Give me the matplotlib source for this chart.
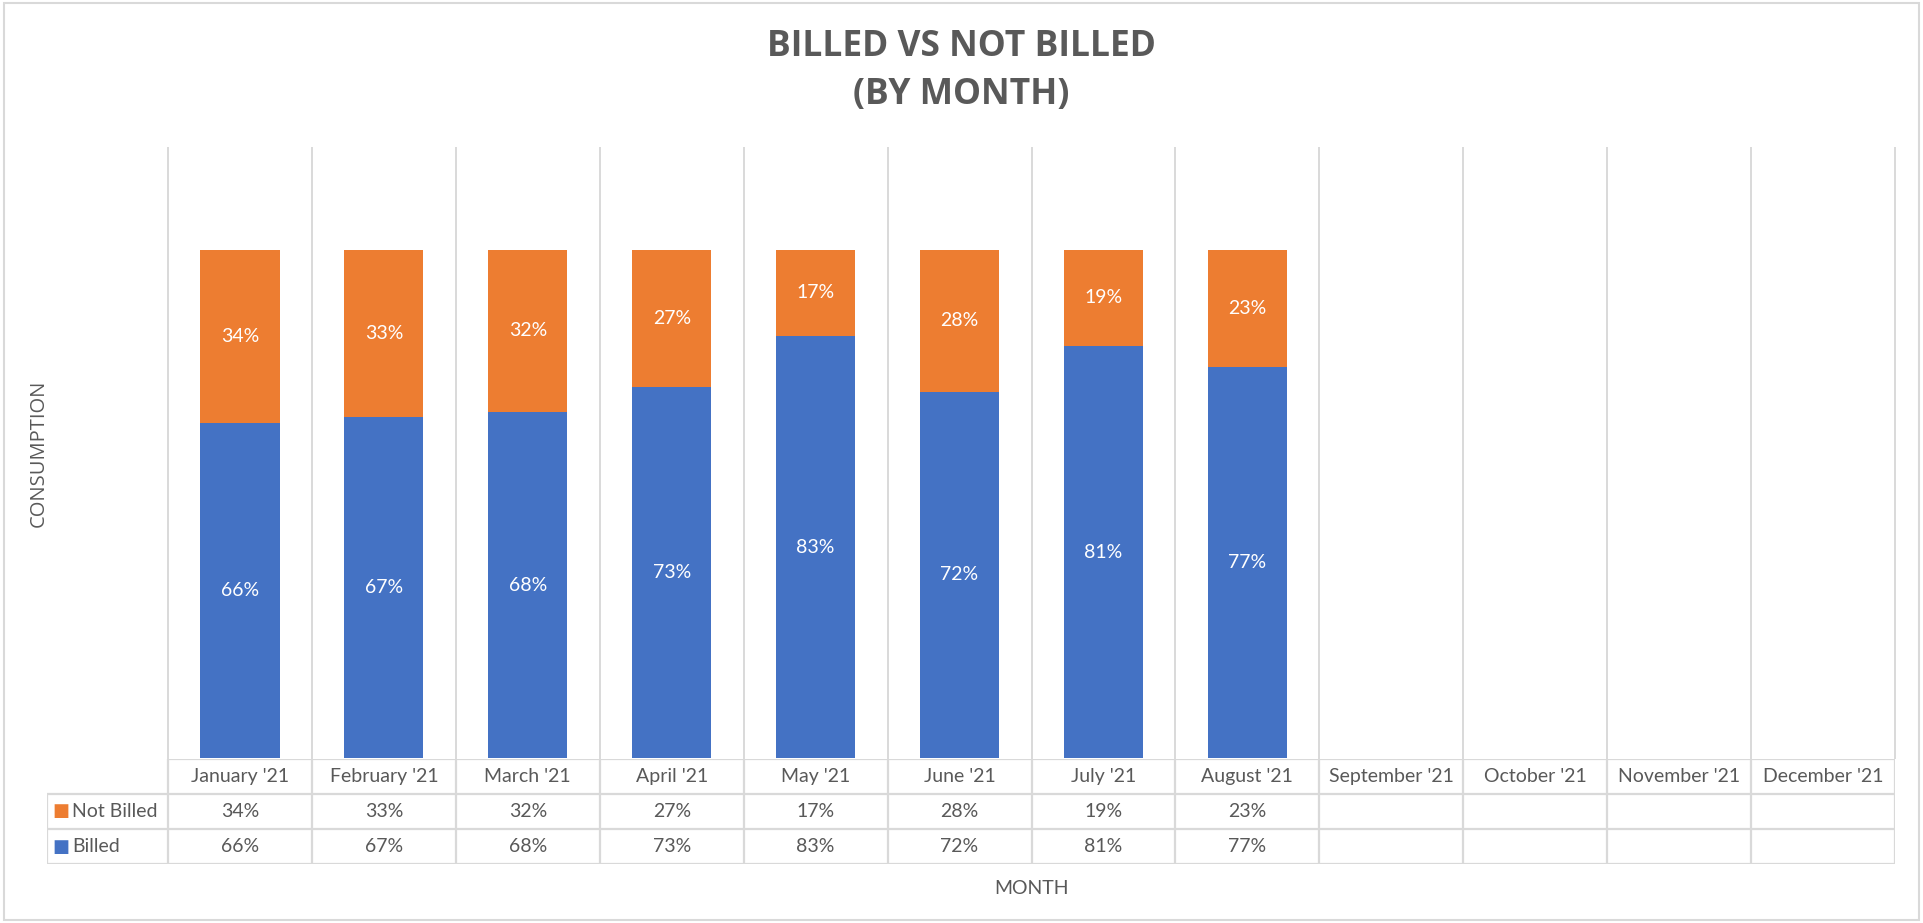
import matplotlib
matplotlib.use("Agg")
import matplotlib.pyplot as plt
from matplotlib.patches import Rectangle
import numpy as np

plt.rcParams['font.family'] = ['Lato', 'DejaVu Sans']

# data
months = ["January '21", "February '21", "March '21", "April '21", "May '21", "June '21",
          "July '21", "August '21", "September '21", "October '21", "November '21", "December '21"]
billed = [66, 67, 68, 73, 83, 72, 81, 77]
not_billed = [34, 33, 32, 27, 17, 28, 19, 23]
series_names = ["Not Billed", "Billed"]

BLUE = '#4472C4'
ORANGE = '#ED7D31'
GRID = '#D9D9D9'
TXT = '#595959'

W, H = 1923, 923
fig = plt.figure(figsize=(W / 100, H / 100), dpi=100)

# plot area (pixel layout of the reference)
ax = fig.add_axes([168 / W, 1 - 758 / H, (1895 - 168) / W, (758 - 148) / H])
x = np.arange(len(billed))
ax.bar(x, billed, width=0.55, color=BLUE, zorder=3)
ax.bar(x, not_billed, width=0.55, bottom=billed, color=ORANGE, zorder=3)

for i in range(len(billed)):
    ax.text(i, billed[i] / 2, f"{billed[i]}%", ha='center', va='center',
            color='white', fontsize=14, zorder=4)
    ax.text(i, billed[i] + not_billed[i] / 2, f"{not_billed[i]}%", ha='center',
            va='center', color='white', fontsize=14, zorder=4)

ax.set_xlim(-0.5, len(months) - 0.5)
ax.set_ylim(0, 120)
for b in np.arange(-0.5, len(months), 1):
    ax.axvline(b, color=GRID, lw=1.4, zorder=1, clip_on=False)
ax.set_xticks([])
ax.set_yticks([])
for s in ax.spines.values():
    s.set_visible(False)
ax.set_ylabel("CONSUMPTION", color=TXT, fontsize=14.5, fontfamily='Open Sans')
ax.yaxis.set_label_coords(-0.069, 0.5)
ax.set_xlabel("MONTH", color=TXT, fontsize=14)
ax.xaxis.set_label_coords(0.5, -0.2)

# data table under the chart
cat_px = (1895 - 168) / len(months)
left = -0.5 - (168 - 47) / cat_px
tab = fig.add_axes([47 / W, 1 - 864 / H, (1895 - 47) / W, (864 - 759) / H])
tab.set_xlim(left, len(months) - 0.5)
tab.set_ylim(3, 0)
tab.axis('off')

tab.hlines(0, -0.5, len(months) - 0.5, color=GRID, lw=1.6)
tab.hlines([1, 2, 3], left, len(months) - 0.5, color=GRID, lw=1.6)
tab.vlines(np.arange(-0.5, len(months), 1), 0, 3, color=GRID, lw=1.6)
tab.vlines(left, 1, 3, color=GRID, lw=1.6)

for i, m in enumerate(months):
    tab.text(i, 0.5, m, ha='center', va='center', color=TXT, fontsize=14)

rows = [not_billed, billed]
colors = [ORANGE, BLUE]
for r, (name, vals, c) in enumerate(zip(series_names, rows, colors)):
    y = r + 1.5
    tab.annotate("■", (left, y), xytext=(4, 0), textcoords='offset points',
                 ha='left', va='center', color=c, fontsize=13,
                 fontfamily='DejaVu Sans')
    tab.annotate(name, (left, y), xytext=(18, 0), textcoords='offset points',
                 ha='left', va='center', color=TXT, fontsize=14)
    for i, v in enumerate(vals):
        tab.text(i, y, f"{v}%", ha='center', va='center', color=TXT, fontsize=14)

# title
fig.text(0.5, 1 - 47 / H, "BILLED VS NOT BILLED", ha='center', va='center',
         fontsize=25.5, fontweight='bold', color=TXT, fontfamily='Open Sans')
fig.text(0.5, 1 - 95 / H, "(BY MONTH)", ha='center', va='center',
         fontsize=25.5, fontweight='bold', color=TXT, fontfamily='Open Sans')

# chart border
fig.patches.append(Rectangle((0.002, 0.003), 0.996, 0.994, transform=fig.transFigure,
                             fill=False, edgecolor=GRID, lw=1.5))

fig.savefig("out.png", dpi=100, facecolor='white')
